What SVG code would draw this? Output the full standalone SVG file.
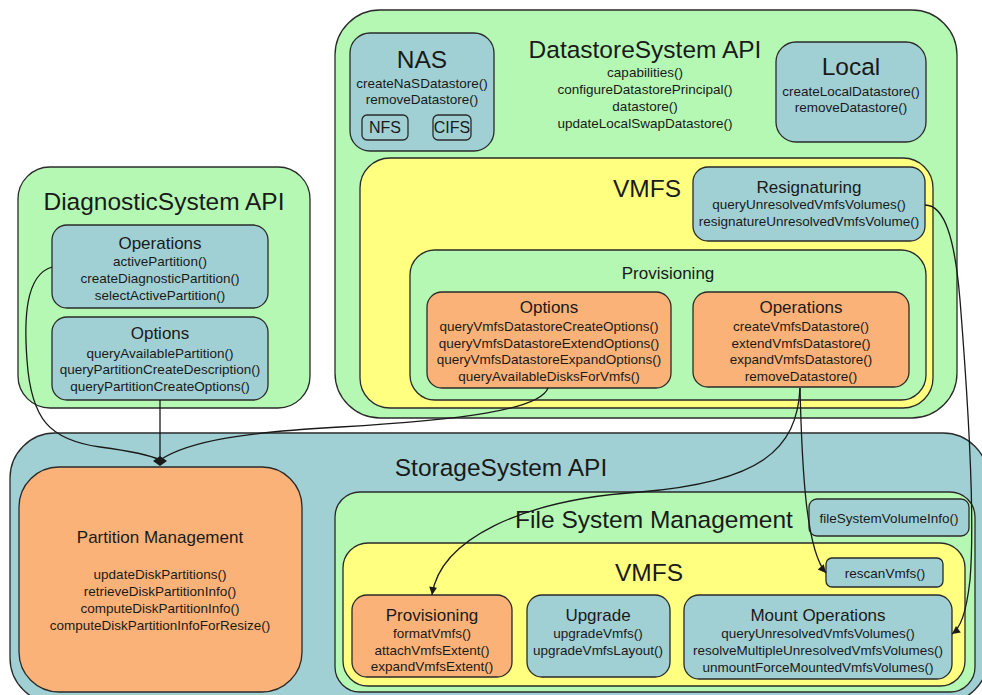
<svg xmlns="http://www.w3.org/2000/svg" width="982" height="695" viewBox="0 0 982 695">
<defs>
<style>
.g{fill:#b4f8b4;stroke:#2a2a2a;stroke-width:1.3}
.b{fill:#a0d0d4;stroke:#2a2a2a;stroke-width:1.3}
.o{fill:#fab278;stroke:#2a2a2a;stroke-width:1.3}
.y{fill:#ffff80;stroke:#2a2a2a;stroke-width:1.3}
text{font-family:"Liberation Sans",Arial,sans-serif;fill:#1a1a1a;text-anchor:middle}
.big{font-size:24.5px}
.t{font-size:17px}
.m{font-size:13.5px}
.c{fill:none;stroke:#1a1a1a;stroke-width:1.3}
</style>
<marker id="arr" viewBox="0 0 10 10" refX="10" refY="5" markerWidth="10" markerHeight="8" markerUnits="userSpaceOnUse" orient="auto">
<path d="M0,0 L10,5 L0,10 z" fill="#1a1a1a"/>
</marker>
</defs>
<rect width="982" height="695" fill="#ffffff"/>

<g id="diagnostic-system">
<rect class="g" x="18" y="167" width="292" height="241" rx="32"/>
<text class="big" x="164" y="210">DiagnosticSystem API</text>
</g>
<g id="diag-operations">
<rect class="b" x="52" y="225" width="216" height="83" rx="15"/>
<text class="t" x="160" y="249">Operations</text>
<text class="m" x="160" y="266">activePartition()</text>
<text class="m" x="160" y="283">createDiagnosticPartition()</text>
<text class="m" x="160" y="300">selectActivePartition()</text>
</g>
<g id="diag-options">
<rect class="b" x="52" y="317" width="216" height="83" rx="15"/>
<text class="t" x="160" y="339">Options</text>
<text class="m" x="160" y="358">queryAvailablePartition()</text>
<text class="m" x="160" y="374">queryPartitionCreateDescription()</text>
<text class="m" x="160" y="391">queryPartitionCreateOptions()</text>
</g>

<g id="datastore-system">
<rect class="g" x="335" y="10" width="622" height="408" rx="45"/>
<text class="big" x="645" y="58">DatastoreSystem API</text>
<text class="m" x="645" y="77">capabilities()</text>
<text class="m" x="645" y="94">configureDatastorePrincipal()</text>
<text class="m" x="645" y="111">datastore()</text>
<text class="m" x="645" y="128">updateLocalSwapDatastore()</text>
</g>
<g id="nas">
<rect class="b" x="350" y="33" width="144" height="118" rx="20"/>
<text class="big" x="422" y="68">NAS</text>
<text class="m" x="422" y="88">createNaSDatastore()</text>
<text class="m" x="422" y="104">removeDatastore()</text>
<rect class="b" x="362" y="115" width="46" height="25" rx="5"/>
<text x="385" y="133" style="font-size:16px">NFS</text>
<rect class="b" x="433" y="115" width="38" height="25" rx="5"/>
<text x="452" y="133" style="font-size:16px">CIFS</text>
</g>
<g id="local">
<rect class="b" x="776" y="42" width="150" height="100" rx="20"/>
<text class="big" x="851" y="75">Local</text>
<text class="m" x="851" y="96">createLocalDatastore()</text>
<text class="m" x="851" y="112">removeDatastore()</text>
</g>
<g id="ds-vmfs">
<rect class="y" x="360" y="158" width="573" height="250" rx="30"/>
<text class="big" x="647" y="197">VMFS</text>
</g>
<g id="resignaturing">
<rect class="b" x="693" y="167" width="232" height="74" rx="15"/>
<text class="t" x="809" y="193">Resignaturing</text>
<text class="m" x="809" y="209">queryUnresolvedVmfsVolumes()</text>
<text class="m" x="809" y="226">resignatureUnresolvedVmfsVolume()</text>
</g>
<g id="ds-provisioning">
<rect class="g" x="410" y="250" width="516" height="150" rx="25"/>
<text class="t" x="668" y="279">Provisioning</text>
</g>
<g id="ds-options">
<rect class="o" x="427" y="292" width="244" height="96" rx="15"/>
<text class="t" x="549" y="313">Options</text>
<text class="m" x="549" y="331">queryVmfsDatastoreCreateOptions()</text>
<text class="m" x="549" y="348">queryVmfsDatastoreExtendOptions()</text>
<text class="m" x="549" y="364">queryVmfsDatastoreExpandOptions()</text>
<text class="m" x="549" y="381">queryAvailableDisksForVmfs()</text>
</g>
<g id="ds-operations">
<rect class="o" x="693" y="292" width="216" height="95" rx="15"/>
<text class="t" x="801" y="313">Operations</text>
<text class="m" x="801" y="331">createVmfsDatastore()</text>
<text class="m" x="801" y="348">extendVmfsDatastore()</text>
<text class="m" x="801" y="364">expandVmfsDatastore()</text>
<text class="m" x="801" y="381">removeDatastore()</text>
</g>

<g id="storage-system">
<rect class="b" x="10" y="433" width="978" height="270" rx="45"/>
<text class="big" x="501" y="476">StorageSystem API</text>
</g>
<g id="partition-management">
<rect class="o" x="19" y="467" width="283" height="225" rx="40"/>
<text class="t" x="160" y="543">Partition Management</text>
<text class="m" x="160" y="579">updateDiskPartitions()</text>
<text class="m" x="160" y="596">retrieveDiskPartitionInfo()</text>
<text class="m" x="160" y="613">computeDiskPartitionInfo()</text>
<text class="m" x="160" y="630">computeDiskPartitionInfoForResize()</text>
</g>
<g id="file-system-management">
<rect class="g" x="335" y="492" width="640" height="200" rx="25"/>
<text class="big" x="654" y="528">File System Management</text>
</g>
<g id="fs-volume-info">
<rect class="b" x="809" y="499" width="160" height="37" rx="8"/>
<text class="m" x="889" y="523">fileSystemVolumeInfo()</text>
</g>
<g id="ss-vmfs">
<rect class="y" x="343" y="543" width="622" height="143" rx="25"/>
<text class="big" x="649" y="581">VMFS</text>
</g>
<g id="rescan-vmfs">
<rect class="b" x="826" y="558" width="117" height="29" rx="6"/>
<text class="m" x="885" y="578">rescanVmfs()</text>
</g>
<g id="ss-provisioning">
<rect class="o" x="352" y="595" width="160" height="82" rx="15"/>
<text class="t" x="432" y="621">Provisioning</text>
<text class="m" x="432" y="638">formatVmfs()</text>
<text class="m" x="432" y="655">attachVmfsExtent()</text>
<text class="m" x="432" y="671">expandVmfsExtent()</text>
</g>
<g id="upgrade">
<rect class="b" x="527" y="595" width="143" height="82" rx="15"/>
<text class="t" x="598" y="621">Upgrade</text>
<text class="m" x="598" y="638">upgradeVmfs()</text>
<text class="m" x="598" y="655">upgradeVmfsLayout()</text>
</g>
<g id="mount-operations">
<rect class="b" x="684" y="595" width="268" height="84" rx="15"/>
<text class="t" x="818" y="621">Mount Operations</text>
<text class="m" x="818" y="638">queryUnresolvedVmfsVolumes()</text>
<text class="m" x="818" y="655">resolveMultipleUnresolvedVmfsVolumes()</text>
<text class="m" x="818" y="672">unmountForceMountedVmfsVolumes()</text>
</g>

<g id="connectors">
<path class="c" d="M52,267 C25,275 24,320 27,360 C31,420 50,440 100,447 C130,451 150,455 160,460"/>
<path class="c" d="M160,400 L160,460"/>
<path class="c" d="M548,388 C540,410 460,420 340,427 C250,432 190,440 160,460"/>
<polygon points="153,461 160,456 167,461 160,466" fill="#1a1a1a"/>
<path class="c" marker-end="url(#arr)" d="M800,388 C797,450 760,482 640,492 C520,500 440,540 432,595"/>
<path class="c" marker-end="url(#arr)" d="M800,388 C802,470 806,550 826,573"/>
<path class="c" marker-end="url(#arr)" d="M925,205 C945,205 955,240 960,300 C968,400 975,520 970,580 C966,615 960,628 952,634"/>
</g>
</svg>
